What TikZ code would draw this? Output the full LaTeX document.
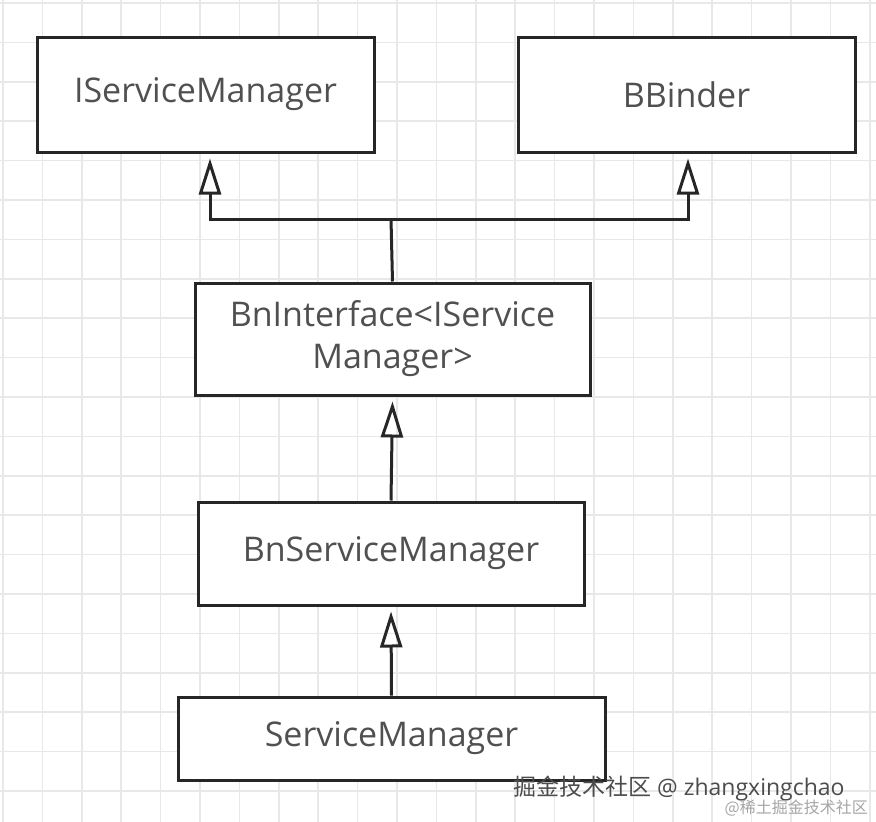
\documentclass[tikz,border=0pt]{standalone}
\usepackage{fontspec}
\setmainfont{Open Sans}
\newfontfamily\cjk{Noto Sans CJK SC}
\usetikzlibrary{arrows.meta, positioning}
\definecolor{gridcolor}{RGB}{232, 232, 232}
\definecolor{labelcolor}{RGB}{80, 80, 80}

\begin{document}
\begin{tikzpicture}[
    x=1pt, y=-1pt,
    box/.style={draw=black!85, line width=3pt, fill=white, inner sep=0pt, align=center, font=\fontsize{34}{42}\selectfont, text=labelcolor},
    inherit/.style={-{Triangle[open, width=22pt, length=36pt, line width=3pt]}, line width=3pt, draw=black!85}
]
    \useasboundingbox (0,0) rectangle (876,822);
    \fill[white] (0,0) rectangle (876,822);
    % grid
    \foreach \g in {0,...,22} {
        \draw[gridcolor, line width=1.5pt] (3+39.4*\g,0) -- (3+39.4*\g,822);
        \draw[gridcolor, line width=1.5pt] (0,3+39.4*\g) -- (876,3+39.4*\g);
    }
    \node[box, minimum width=337pt, minimum height=115pt] (ism) at (205.5,94.5) {IServiceManager};
    \node[box, minimum width=337pt, minimum height=115pt] (bbinder) at (686.5,94.5) {BBinder};
    \node[box, minimum width=395pt, minimum height=112pt] (bninterface) at (392.5,339) {BnInterface<IService\\Manager>};
    \node[box, minimum width=386pt, minimum height=103pt] (bnsm) at (391,553.5) {BnServiceManager};
    \node[box, minimum width=427pt, minimum height=83pt] (sm) at (391.5,738.5) {ServiceManager};
    \coordinate (join) at (391,219);

    \draw[line width=3pt, draw=black!85] (bninterface.north) -- (join);
    \draw[inherit] (join) -| ([xshift=4.5pt, yshift=-5pt]ism.south);
    \draw[inherit] (join) -| ([xshift=1.5pt, yshift=-5pt]bbinder.south);
    \draw[inherit] (bnsm.north) -- ([yshift=-5pt]bninterface.south);
    \draw[inherit] (sm.north) -- ([yshift=-5pt]bnsm.south);

    % watermark
    \node[anchor=base west, inner sep=0pt, font=\fontsize{23}{26}\selectfont, text=black!70] (mark) at (513,795) {{\cjk 掘金技术社区} @ zhangxingchao};
    \node[anchor=base east, inner sep=0pt, font=\cjk\fontsize{16}{18}\selectfont, text=black!35] (mark2) at (868,813) {@稀土掘金技术社区};
\end{tikzpicture}
\end{document}
